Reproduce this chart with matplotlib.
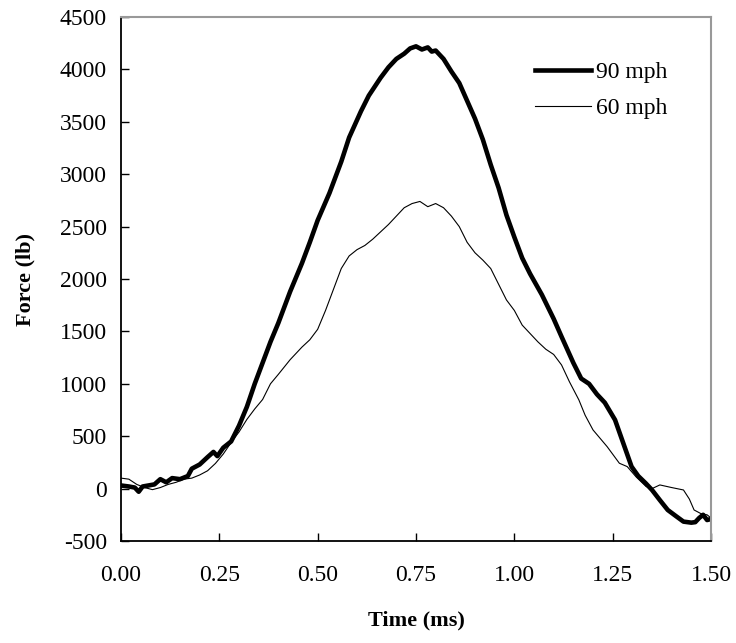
import matplotlib
matplotlib.use("Agg")
import matplotlib.pyplot as plt

# time (ms) and force (lb)
t90 = [0.00, 0.02, 0.035, 0.045, 0.055, 0.07, 0.085, 0.10, 0.115, 0.13, 0.15, 0.17, 0.18, 0.20,
       0.22, 0.235, 0.245, 0.26, 0.28, 0.30, 0.32, 0.34, 0.36, 0.38, 0.40, 0.43, 0.46, 0.48, 0.50,
       0.53, 0.56, 0.58, 0.61, 0.63, 0.66, 0.68, 0.70, 0.72, 0.735, 0.75, 0.765, 0.78, 0.79, 0.80,
       0.82, 0.84, 0.86, 0.88, 0.90, 0.92, 0.94, 0.96, 0.98, 1.00, 1.02, 1.04, 1.07, 1.10, 1.12,
       1.15, 1.17, 1.19, 1.21, 1.23, 1.256, 1.277, 1.298, 1.315, 1.334, 1.35, 1.37, 1.39, 1.41,
       1.43, 1.45, 1.46, 1.47, 1.48, 1.49, 1.50]
f90 = [30, 20, 10, -30, 20, 30, 40, 90, 60, 100, 90, 120, 190, 230,
       300, 350, 310, 390, 450, 600, 780, 1000, 1200, 1400, 1580, 1880, 2150, 2350, 2560,
       2820, 3120, 3350, 3600, 3750, 3920, 4020, 4100, 4150, 4200, 4220, 4190, 4210, 4170, 4180,
       4100, 3980, 3870, 3700, 3530, 3330, 3090, 2870, 2610, 2400, 2200, 2050, 1850, 1620, 1450,
       1200, 1050, 1000, 900, 820, 656, 433, 210, 120, 51, -13, -110, -204, -260,
       -315, -325, -320, -280, -250, -300, -290]

t60 = [0.00, 0.02, 0.04, 0.06, 0.08, 0.10, 0.12, 0.14, 0.16, 0.18, 0.20, 0.22, 0.24, 0.26, 0.28,
       0.30, 0.32, 0.34, 0.36, 0.38, 0.40, 0.43, 0.46, 0.48, 0.50, 0.52, 0.54, 0.56, 0.58, 0.60,
       0.62, 0.64, 0.66, 0.68, 0.70, 0.72, 0.74, 0.76, 0.78, 0.80, 0.82, 0.84, 0.86, 0.88, 0.90,
       0.92, 0.94, 0.96, 0.98, 1.00, 1.02, 1.04, 1.06, 1.08, 1.10, 1.12, 1.14, 1.164, 1.18, 1.20,
       1.236, 1.267, 1.287, 1.31, 1.335, 1.35, 1.37, 1.40, 1.43, 1.445, 1.457, 1.475, 1.49, 1.50]
f60 = [100, 90, 40, 10, -10, 10, 40, 60, 90, 100, 130, 170, 240, 330, 440,
       540, 660, 760, 850, 1000, 1090, 1230, 1350, 1420, 1520, 1700, 1900, 2100, 2220, 2280,
       2320, 2380, 2450, 2520, 2600, 2680, 2720, 2740, 2690, 2720, 2680, 2600, 2500, 2350, 2250,
       2180, 2100, 1950, 1800, 1700, 1560, 1480, 1400, 1330, 1280, 1180, 1020, 847, 700, 560,
       400, 242, 210, 110, 20, 0, 35, 10, -13, -100, -204, -240, -250, -280]

xticks = [0.00, 0.25, 0.50, 0.75, 1.00, 1.25, 1.50]
yticks = list(range(-500, 4501, 500))

plt.rcParams['font.family'] = ['Liberation Serif', 'DejaVu Serif']
plt.rcParams['axes.unicode_minus'] = False

fig = plt.figure(figsize=(7.36, 6.43), dpi=100)
ax = fig.add_axes([121/736, 1-541/643, 590/736, 524/643])

ax.plot(t90, f90, color='black', lw=3.3, label='90 mph', solid_joinstyle='round')
ax.plot(t60, f60, color='black', lw=0.8, label='60 mph')

ax.set_xlim(0, 1.5)
ax.set_ylim(-500, 4500)
ax.set_xticks(xticks)
ax.set_xticklabels([f"{v:.2f}" for v in xticks])
ax.set_yticks(yticks)
ax.tick_params(direction='in', length=6, width=1, labelsize=17)
ax.tick_params(axis='y', pad=10)
ax.tick_params(axis='x', pad=17)

for s in ['left', 'bottom']:
    ax.spines[s].set_color('black')
    ax.spines[s].set_linewidth(1.3)
for s in ['top', 'right']:
    ax.spines[s].set_color('#999999')
    ax.spines[s].set_linewidth(1.5)

ax.set_xlabel('Time (ms)', fontsize=16, fontweight='bold', labelpad=18)
ax.set_ylabel('Force (lb)', fontsize=16, fontweight='bold', labelpad=18)

ax.legend(loc='upper left', bbox_to_anchor=(523/736, 1-50/643), bbox_transform=fig.transFigure,
          frameon=False, fontsize=17, handlelength=2.4, handletextpad=0.2, labelspacing=0.6,
          borderpad=0)

fig.savefig('out.png', dpi=100)
